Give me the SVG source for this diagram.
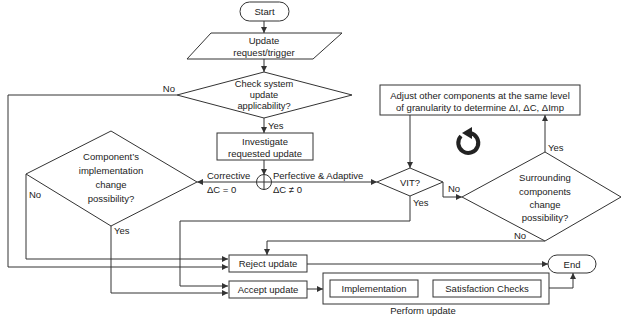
<svg xmlns="http://www.w3.org/2000/svg" width="621" height="323" viewBox="0 0 621 323">
<style>
.s{fill:#fff;stroke:#333;stroke-width:1}
.c{fill:none;stroke:#333;stroke-width:1}
text{font-family:"Liberation Sans",Arial,sans-serif;font-size:9.5px;fill:#222}
.m{text-anchor:middle}
.sm{font-size:9.3px}
</style>
<defs>
<marker id="a" viewBox="0 0 8 8" refX="8" refY="4" markerWidth="6" markerHeight="6" orient="auto" markerUnits="userSpaceOnUse"><path d="M0,0L8,4L0,8z" fill="#333"/></marker>
</defs>
<rect width="621" height="323" fill="#fff"/>
<g id="connectors" class="c">
<path d="M264,21V33" marker-end="url(#a)"/>
<path d="M264,59V72" marker-end="url(#a)"/>
<path d="M177,95H8V267H228" marker-end="url(#a)"/>
<path d="M264,118V133" marker-end="url(#a)"/>
<path d="M264,160V175" marker-end="url(#a)"/>
<path d="M256,182H197" marker-end="url(#a)"/>
<path d="M272,182H377" marker-end="url(#a)"/>
<path d="M26,174V259H228" marker-end="url(#a)"/>
<path d="M111,226V293H228" marker-end="url(#a)"/>
<path d="M410,196V221H180V286H228" marker-end="url(#a)"/>
<path d="M443,182V197H462" marker-end="url(#a)"/>
<path d="M545,152V115" marker-end="url(#a)"/>
<path d="M410,115V168" marker-end="url(#a)"/>
<path d="M545,241H267V255" marker-end="url(#a)"/>
<path d="M307,264H548" marker-end="url(#a)"/>
<path d="M307,289H323" marker-end="url(#a)"/>
<path d="M418,288H433" marker-end="url(#a)"/>
<path d="M549,288H573V273" marker-end="url(#a)"/>
</g>
<g id="labels">
<text x="175" y="92" text-anchor="end">No</text>
<text x="268" y="129">Yes</text>
<text x="207" y="179">Corrective</text>
<text x="207" y="193">ΔC = 0</text>
<text x="273" y="179">Perfective &amp; Adaptive</text>
<text x="273" y="193">ΔC ≠ 0</text>
<text x="29" y="198">No</text>
<text x="114" y="234">Yes</text>
<text x="413" y="206">Yes</text>
<text x="448" y="192">No</text>
<text x="548" y="151">Yes</text>
<text x="514" y="239">No</text>
</g>
<g id="start"><rect class="s" x="240" y="2" width="49" height="19" rx="9.5"/><text class="m" x="264.5" y="15">Start</text></g>
<g id="trigger"><path class="s" d="M211,33H342L313,59H187Z"/><text class="m" x="264" y="44">Update</text><text class="m" x="264" y="56">request/trigger</text></g>
<g id="check"><path class="s" d="M264,72L352,95L264,118L177,95Z"/><text class="m sm" x="264" y="87">Check system</text><text class="m sm" x="264" y="98">update</text><text class="m sm" x="264" y="109">applicability?</text></g>
<g id="investigate"><rect class="s" x="217" y="133" width="96" height="27"/><text class="m" x="265" y="145">Investigate</text><text class="m" x="265" y="157">requested update</text></g>
<g id="junction"><circle class="s" cx="264" cy="182" r="7.5"/><path class="c" d="M256.5,182H271.5M264,174.5V189.5"/></g>
<g id="component"><path class="s" d="M111,131L197,182L111,226L26,174Z"/><text class="m" x="111" y="160">Component’s</text><text class="m" x="111" y="174">implementation</text><text class="m" x="111" y="188">change</text><text class="m" x="111" y="202">possibility?</text></g>
<g id="vit"><path class="s" d="M410,168L443,182L410,196L377,182Z"/><text class="m" x="410" y="186">VIT?</text></g>
<g id="adjust"><rect class="s" x="380" y="85" width="200" height="30"/><text class="m" x="480" y="99">Adjust other components at the same level</text><text class="m" x="480" y="111">of granularity to determine ΔI, ΔC, ΔImp</text></g>
<g id="cycle"><path d="M461,136A10,10 0 1 0 470,133" fill="none" stroke="#222" stroke-width="4"/><path d="M462,133L472,127L472,139Z" fill="#222"/></g>
<g id="surrounding"><path class="s" d="M545,152L621,197L545,241L462,197Z"/><text class="m" x="545" y="181">Surrounding</text><text class="m" x="545" y="195">components</text><text class="m" x="545" y="208">change</text><text class="m" x="545" y="221">possibility?</text></g>
<g id="reject"><rect class="s" x="229" y="255" width="78" height="17"/><text class="m" x="268" y="267">Reject update</text></g>
<g id="accept"><rect class="s" x="229" y="281" width="78" height="17"/><text class="m" x="268" y="293">Accept update</text></g>
<g id="end"><rect class="s" x="548" y="255" width="48" height="18" rx="9"/><text class="m" x="572" y="268">End</text></g>
<g id="perform"><rect class="s" x="323" y="273" width="226" height="31"/><text class="m" x="423" y="314">Perform update</text></g>
<g id="implementation"><rect class="s" x="330" y="280" width="88" height="17"/><text class="m" x="374" y="292">Implementation</text></g>
<g id="satisfaction"><rect class="s" x="433" y="280" width="108" height="17"/><text class="m" x="487" y="292">Satisfaction Checks</text></g>
</svg>
